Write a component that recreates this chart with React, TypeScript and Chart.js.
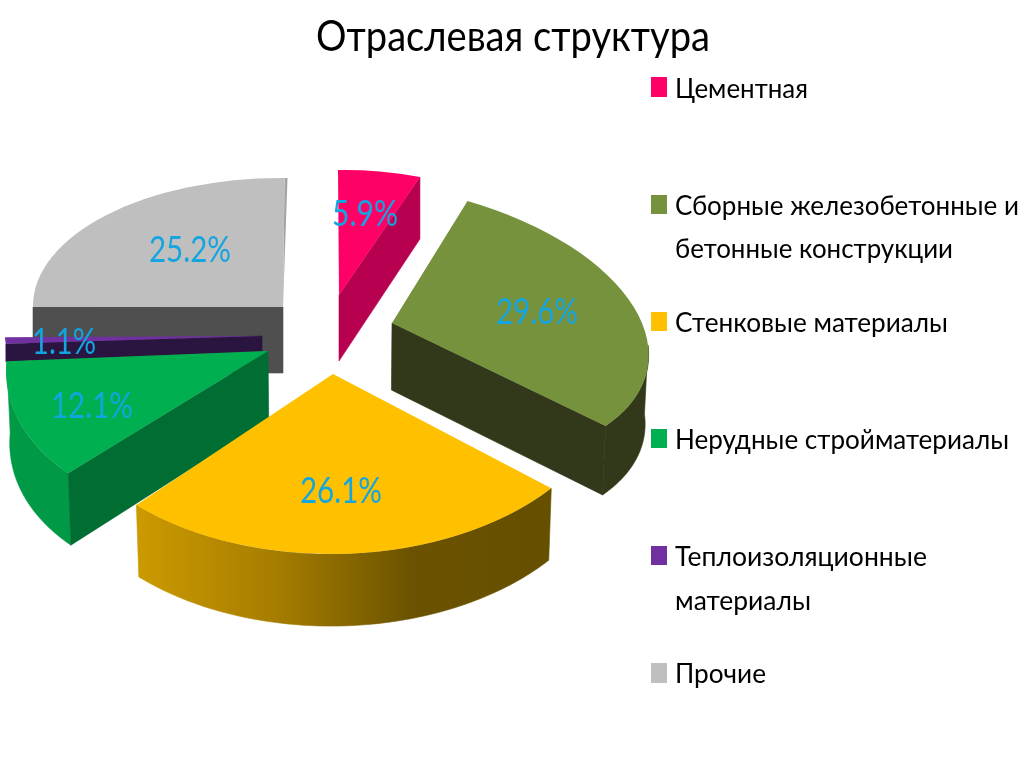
import React, { useEffect, useRef } from "react";
import { Chart, registerables } from "chart.js";

Chart.register(...registerables);

const titleText = "Отраслевая структура";
const categories = [
  "Цементная",
  "Сборные железобетонные и бетонные конструкции",
  "Стенковые материалы",
  "Нерудные стройматериалы",
  "Теплоизоляционные материалы",
  "Прочие",
];
const shares = [5.9, 29.6, 26.1, 12.1, 1.1, 25.2];
const valueLabels = ["5.9%", "29.6%", "26.1%", "12.1%", "1.1%", "25.2%"];
const topColors = ["#FF0066", "#76923C", "#FFC000", "#00B050", "#7030A0", "#BFBFBF"];
const faceColors = ["#B80050", "#31391A", "#6B5200", "#006E33", "#2A1540", "#4F4F4F"];
const rimColors: (string | string[])[] = ["#B80050", "#31391A", ["#CC9A00", "#A67D00", "#6B5200", "#655000"], "#009A47", "#2A1540", "#4F4F4F"];

// Placement of the exploded slices in the tilted view.
// origin: slice tip; m: [a, b, c, d] projection of the unit circle; dTip/dRim: extrusion;
// k: horizontal shrink of the lower edge; rimFrom: first visible rim angle (radians, chart convention)
const views = [
  { origin: [339, 295], m: [226, -4, 1, 125], dTip: 66, dRim: 62, k: 1, face: "end", rim: false, rimFrom: -Infinity, label: [26, -81] },
  { origin: [392, 323], m: [256, 22.1, 18.5, 139.5], dTip: 67, dRim: 69, k: 0.9885, face: "end", rim: true, rimFrom: 0, label: [145, -11] },
  { origin: [333, 374], m: [284, 5, -10, 180], dTip: 72, dRim: 72, k: 0.988, face: "", rim: true, rimFrom: -Infinity, label: [8, 117] },
  { origin: [268, 351], m: [259, 3.4, -36.7, 166.8], dTip: 68, dRim: 72, k: 0.99, face: "start", rim: true, rimFrom: -Infinity, label: [-176, 55] },
  { origin: [262, 336], m: [257, 0, 0, 95], dTip: 15, dRim: 18, k: 1, face: "start", rim: false, rimFrom: -Infinity, label: [-198, 6] },
  { origin: [283, 307], m: [250, 1.6, -1.5, 129], dTip: 66, dRim: 66, k: 1, face: "start", rim: false, rimFrom: -Infinity, label: [-93, -57] },
];
const paintOrder = [5, 0, 4, 3, 1, 2];
const labelWidths = [66, 82, 82, 82, 64, 82];
const vanishX = 340;

const legendRows = [
  { lines: ["Цементная"], box: [651, 77, 16, 20], baselines: [98], widths: [133] },
  { lines: ["Сборные железобетонные и", "бетонные конструкции"], box: [651, 195, 16, 19], baselines: [215, 258], widths: [344, 278] },
  { lines: ["Стенковые материалы"], box: [651, 312, 16, 19], baselines: [332], widths: [273] },
  { lines: ["Нерудные стройматериалы"], box: [651, 429, 16, 19], baselines: [449], widths: [334] },
  { lines: ["Теплоизоляционные", "материалы"], box: [651, 546, 16, 19], baselines: [566, 610], widths: [252, 136] },
  { lines: ["Прочие"], box: [651, 663, 16, 20], baselines: [683], widths: [91] },
];

const FONT = 'Lato, "Noto Sans", sans-serif';

const pie3d = {
  id: "pie3d",
  beforeDatasetsDraw(chart: any) {
    const ctx: CanvasRenderingContext2D = chart.ctx;
    const arcs = chart.getDatasetMeta(0).data;
    const at = (i: number, theta: number) => {
      const v = views[i];
      const ux = Math.cos(theta), uy = Math.sin(theta);
      return [v.origin[0] + v.m[0] * ux + v.m[2] * uy, v.origin[1] + v.m[1] * ux + v.m[3] * uy];
    };
    for (const i of paintOrder) {
      const arc = arcs[i];
      const v = views[i];
      const shrink = (px: number) => vanishX + (px - vanishX) * v.k;
      const { startAngle, endAngle, outerRadius, x, y } = arc.getProps(["startAngle", "endAngle", "outerRadius", "x", "y"], true);
      if (i === 5) {
        const p = at(i, endAngle);
        ctx.fillStyle = "#A3A3A3";
        ctx.beginPath();
        ctx.moveTo(v.origin[0], v.origin[1]);
        ctx.lineTo(p[0], p[1]);
        ctx.lineTo(p[0] + 3, p[1]);
        ctx.closePath();
        ctx.fill();
      }
      if (v.rim) {
        const steps = 60;
        const from = Math.max(startAngle, v.rimFrom);
        const top: number[][] = [];
        for (let s = 0; s <= steps; s++) top.push(at(i, from + ((endAngle - from) * s) / steps));
        const c = rimColors[i];
        let fill: any = c;
        if (Array.isArray(c)) {
          const xs = top.map((p) => p[0]);
          const g = ctx.createLinearGradient(Math.min(...xs), 0, Math.max(...xs), 0);
          c.forEach((col, k) => g.addColorStop(k / (c.length - 1), col));
          fill = g;
        }
        ctx.fillStyle = fill;
        ctx.strokeStyle = fill;
        ctx.lineWidth = 0.6;
        ctx.beginPath();
        top.forEach((p, k) => (k ? ctx.lineTo(p[0], p[1]) : ctx.moveTo(p[0], p[1])));
        for (let k = top.length - 1; k >= 0; k--) ctx.lineTo(shrink(top[k][0]), top[k][1] + v.dRim);
        ctx.closePath();
        ctx.fill();
        ctx.stroke();
      }
      if (v.face) {
        const theta = v.face === "end" ? endAngle : startAngle;
        const p = at(i, theta);
        ctx.fillStyle = faceColors[i];
        ctx.strokeStyle = faceColors[i];
        ctx.lineWidth = 0.6;
        ctx.beginPath();
        ctx.moveTo(v.origin[0], v.origin[1]);
        ctx.lineTo(p[0], p[1]);
        ctx.lineTo(shrink(p[0]), p[1] + v.dRim);
        ctx.lineTo(shrink(v.origin[0]), v.origin[1] + v.dTip);
        ctx.closePath();
        ctx.fill();
        ctx.stroke();
      }
      ctx.save();
      ctx.translate(v.origin[0], v.origin[1]);
      ctx.transform(v.m[0] / outerRadius, v.m[1] / outerRadius, v.m[2] / outerRadius, v.m[3] / outerRadius, 0, 0);
      ctx.translate(-x, -y);
      arc.draw(ctx);
      ctx.restore();
    }
  },
  beforeDatasetDraw() {
    return false;
  },
  afterDatasetsDraw(chart: any) {
    const ctx: CanvasRenderingContext2D = chart.ctx;
    ctx.save();
    ctx.font = `36px ${FONT}`;
    ctx.fillStyle = "#12A5E0";
    ctx.textAlign = "center";
    ctx.textBaseline = "middle";
    valueLabels.forEach((t, i) => {
      const v = views[i];
      ctx.fillText(t, v.origin[0] + v.label[0], v.origin[1] + v.label[1], labelWidths[i]);
    });
    ctx.fillStyle = "#000000";
    ctx.font = `43px ${FONT}`;
    ctx.textBaseline = "alphabetic";
    ctx.fillText(titleText, 513, 51, 394);
    ctx.textAlign = "left";
    ctx.font = `27px ${FONT}`;
    legendRows.forEach((row, i) => {
      ctx.fillStyle = topColors[i];
      ctx.fillRect(row.box[0], row.box[1], row.box[2], row.box[3]);
      ctx.fillStyle = "#000000";
      row.lines.forEach((line, k) => ctx.fillText(line, 675, row.baselines[k], row.widths[k]));
    });
    ctx.restore();
  },
};

export default function App() {
  const ref = useRef<HTMLCanvasElement>(null);
  useEffect(() => {
    document.body.style.margin = "0";
    document.body.style.background = "#ffffff";
    const chart = new Chart(ref.current!, {
      type: "pie",
      data: {
        labels: categories,
        datasets: [{ data: shares, backgroundColor: topColors, borderWidth: 0 }],
      },
      options: {
        responsive: false,
        devicePixelRatio: 1,
        animation: false,
        layout: { padding: 0 },
        plugins: {
          legend: { display: false },
          tooltip: { enabled: false },
          title: { display: false },
        },
      },
      plugins: [pie3d],
    } as any);
    return () => chart.destroy();
  }, []);
  return <canvas ref={ref} width={1024} height={767} style={{ display: "block" }} />;
}
